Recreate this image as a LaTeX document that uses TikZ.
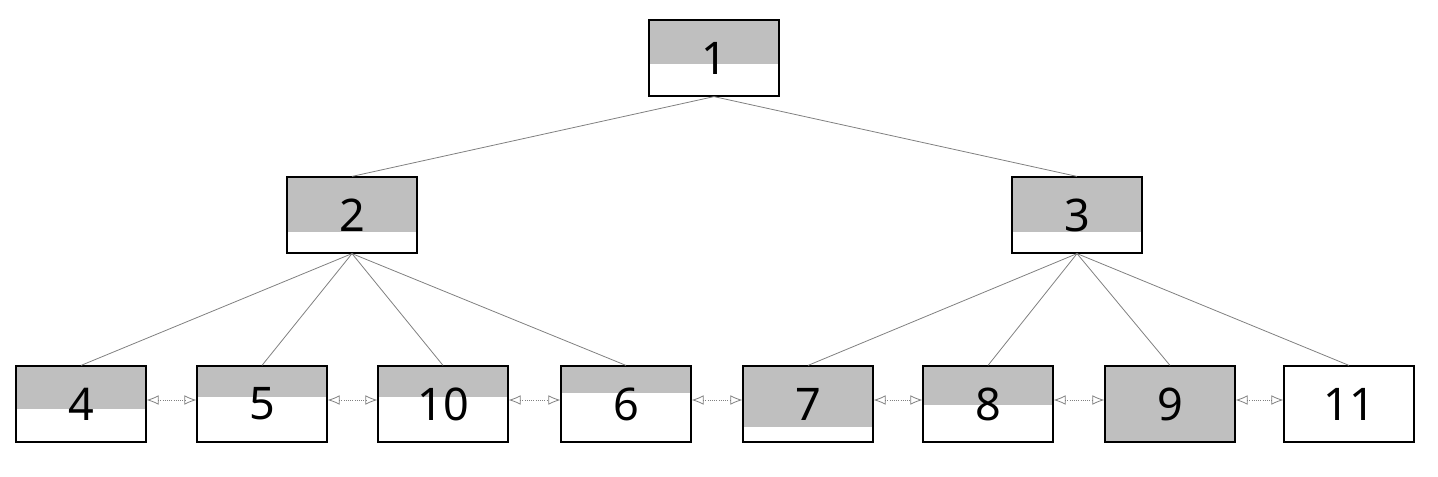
\documentclass[tikz,border=0pt]{standalone}
\usepackage{fontspec}
\setmainfont{Noto Sans}
\usetikzlibrary{arrows.meta}
\usetikzlibrary{calc}
\tikzset{blk/.style={draw=black, line width=0.3mm, minimum width=32.5mm, minimum height=19mm, inner sep=0pt, font=\fontsize{32}{32}\selectfont}}
\tikzset{lvl/.style={path picture={\fill[gray!50] (path picture bounding box.north west) rectangle ($(path picture bounding box.north east)!#1!(path picture bounding box.south east)$);}}}
\tikzset{br/.style={gray, line width=0.2mm}}
\tikzset{nb/.style={{Latex[open,length=3mm,width=2.4mm]}-{Latex[open,length=3mm,width=2.4mm]}, gray, densely dotted, line width=0.2mm}}

\begin{document}
\begin{tikzpicture}[x=0.25mm,y=-0.25mm]
        \useasboundingbox (0,0) rectangle (1438,476);
        % root and inner nodes
        \node[blk, lvl=0.58] (n1) at (714,58) {1};
        \node[blk, lvl=0.73] (n2) at (352,215) {2};
        \node[blk, lvl=0.73] (n3) at (1077,215) {3};
        % leaves
        \node[blk, lvl=0.57] (n4) at (81,404) {4};
        \node[blk, lvl=0.41] (n5) at (262,404) {5};
        \node[blk, lvl=0.41] (n10) at (443,404) {10};
        \node[blk, lvl=0.35] (n6) at (626,404) {6};
        \node[blk, lvl=0.8] (n7) at (808,404) {7};
        \node[blk, lvl=0.51] (n8) at (988,404) {8};
        \node[blk, fill=gray!50] (n9) at (1170,404) {9};
        \node[blk] (n11) at (1349,404) {11};
        % tree edges
        \draw[br] (n1.south) -- (n2.north);
        \draw[br] (n1.south) -- (n3.north);
        \draw[br] (n2.south) -- (n4.north);
        \draw[br] (n2.south) -- (n5.north);
        \draw[br] (n2.south) -- (n10.north);
        \draw[br] (n2.south) -- (n6.north);
        \draw[br] (n3.south) -- (n7.north);
        \draw[br] (n3.south) -- (n8.north);
        \draw[br] (n3.south) -- (n9.north);
        \draw[br] (n3.south) -- (n11.north);
        % sibling links
        \draw[nb] ([yshift=1mm]n4.east) -- ([yshift=1mm]n5.west);
        \draw[nb] ([yshift=1mm]n5.east) -- ([yshift=1mm]n10.west);
        \draw[nb] ([yshift=1mm]n10.east) -- ([yshift=1mm]n6.west);
        \draw[nb] ([yshift=1mm]n6.east) -- ([yshift=1mm]n7.west);
        \draw[nb] ([yshift=1mm]n7.east) -- ([yshift=1mm]n8.west);
        \draw[nb] ([yshift=1mm]n8.east) -- ([yshift=1mm]n9.west);
        \draw[nb] ([yshift=1mm]n9.east) -- ([yshift=1mm]n11.west);
      \end{tikzpicture}
\end{document}
